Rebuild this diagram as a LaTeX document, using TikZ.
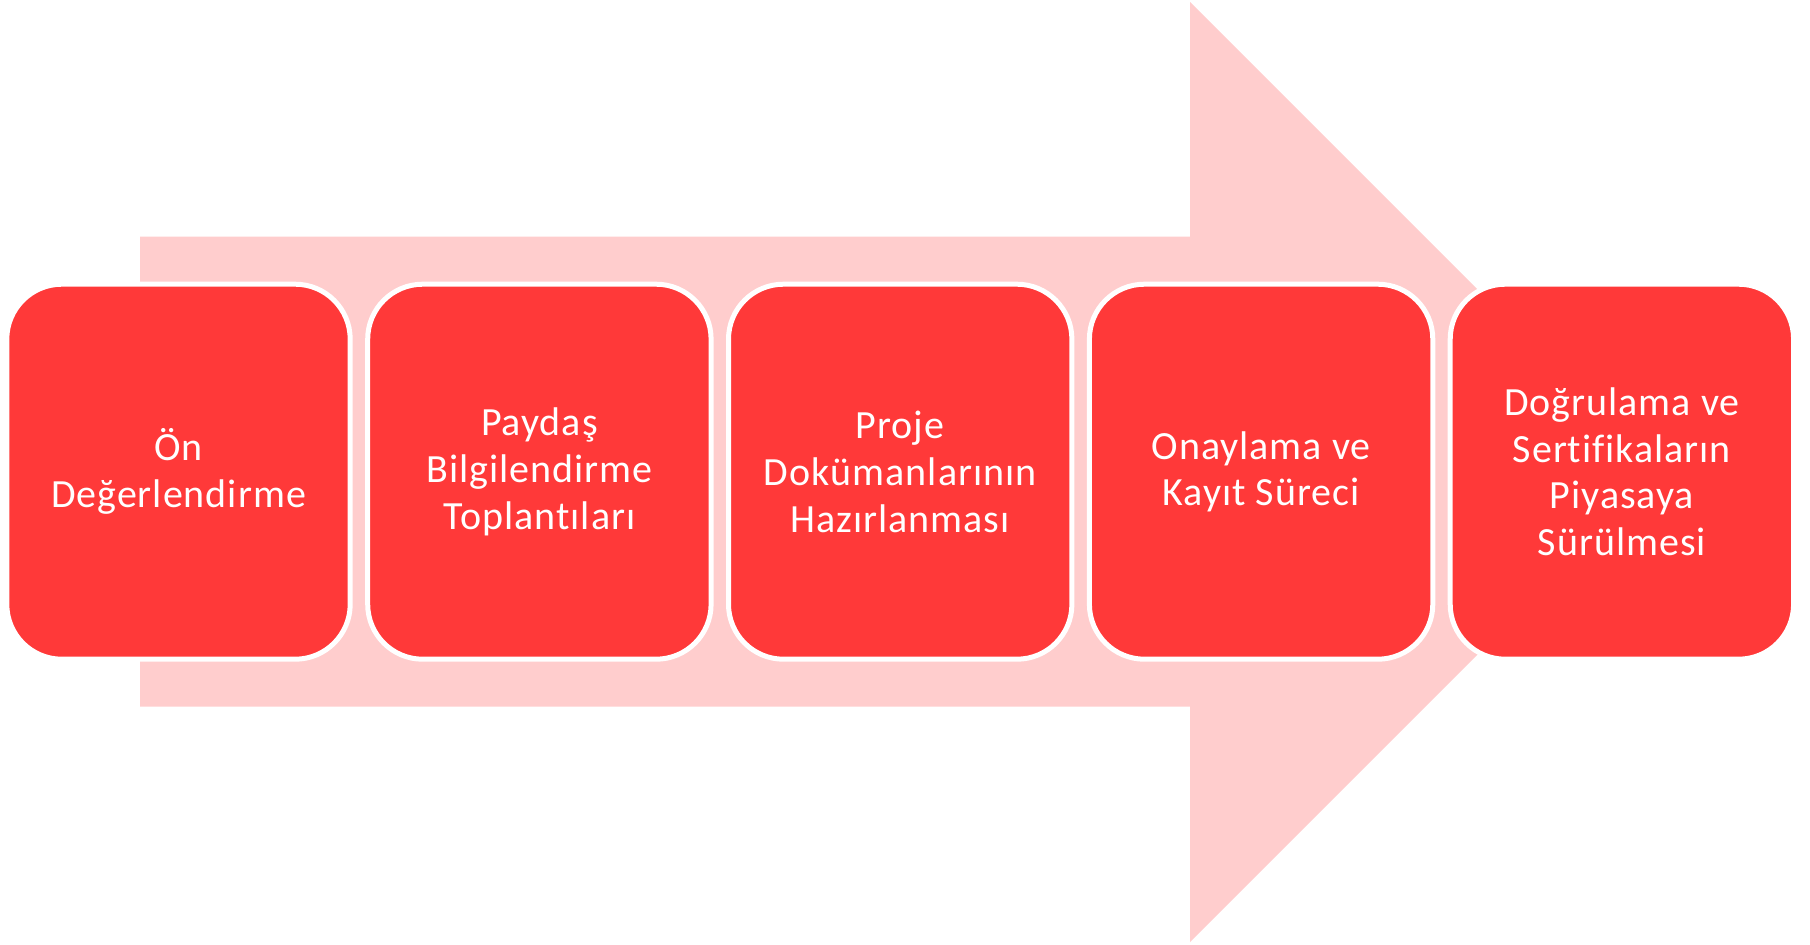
\documentclass[tikz,border=0pt]{standalone}
\usepackage{fontspec}
\setmainfont{Carlito}[Ligatures=NoCommon, LetterSpace=2.5]
\definecolor{boxred}{RGB}{255,57,57}
\definecolor{arrowpink}{RGB}{255,205,205}
\tikzset{
  stepbox/.style={draw=white, line width=5pt, fill=boxred, rounded corners=55pt,
    minimum width=343.4pt, minimum height=375pt, inner sep=0pt, outer sep=0pt,
    text=white, align=center, font=\fontsize{40}{46.7}\selectfont},
  bigarrow/.style={fill=arrowpink, draw=none}
}
\begin{document}
\begin{tikzpicture}[x=1pt,y=-1pt]
\useasboundingbox (0,0) rectangle (1810,945);
\fill[bigarrow] (140,236.7) -- (1190,236.7) -- (1190,2) -- (1660,472) -- (1190,942) -- (1190,706.7) -- (140,706.7) -- cycle;
\node[stepbox] (s1) at (178.5,471.7) {Ön\\Değerlendirme};
\node[stepbox] (s2) at (539.4,471.7) {Paydaş\\Bilgilendirme\\Toplantıları};
\node[stepbox] (s3) at (900.2,471.7) {Proje\\Dokümanlarının\\Hazırlanması};
\node[stepbox] (s4) at (1261.1,471.7) {Onaylama ve\\Kayıt Süreci};
\node[stepbox] (s5) at (1621.9,471.7) {Doğrulama ve\\Sertifikaların\\Piyasaya\\Sürülmesi};
\end{tikzpicture}
\end{document}
